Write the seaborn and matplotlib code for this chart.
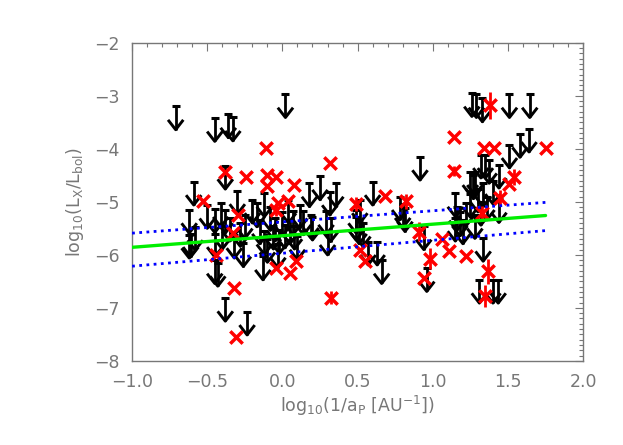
import numpy as np
import pandas as pd
import matplotlib
matplotlib.use("Agg")
import matplotlib.pyplot as plt
from matplotlib.path import Path
from matplotlib.ticker import MultipleLocator
import seaborn as sns

# detections (red crosses): log10(1/a_P), log10(Lx/Lbol), y error
det_x = [-0.53, -0.44, -0.38, -0.33, -0.32, -0.31, -0.295, -0.245, -0.11, -0.10,
         -0.10, -0.04, -0.04, -0.03, -0.045, 0.04, 0.05, 0.08, 0.09, 0.315,
         0.32, 0.49, 0.515, 0.55, 0.68, 0.82, 0.91, 0.94, 0.98, 1.06,
         1.11, 1.14, 1.14, 1.22, 1.33, 1.34, 1.41, 1.38, 1.37, 1.35,
         1.45, 1.51, 1.54, 1.75]
det_y = [-4.99, -6.00, -4.43, -5.59, -6.63, -7.54, -5.24, -4.54, -3.99, -4.50,
         -4.71, -4.53, -5.15, -5.02, -6.25, -4.99, -6.34, -4.68, -6.11, -4.27,
         -6.81, -5.04, -5.90, -6.12, -4.89, -4.99, -5.56, -6.44, -6.07, -5.70,
         -5.92, -3.78, -4.42, -6.02, -5.22, -3.99, -3.99, -3.18, -6.31, -6.77,
         -4.92, -4.66, -4.53, -3.99]
det_err = [0, 0, 0, 0, 0, 0, 0, 0, 0, 0,
           0, 0, 0.12, 0, 0, 0, 0, 0, 0, 0,
           0.12, 0.14, 0, 0, 0, 0.14, 0.17, 0, 0.2, 0,
           0, 0, 0.1, 0, 0.14, 0, 0, 0.26, 0.24, 0.21,
           0.15, 0, 0.15, 0]

# upper limits (black arrows)
lim_x = [-0.71, -0.45, -0.36, -0.33, -0.38, -0.59, -0.30, -0.62, -0.62, -0.58,
         -0.61, -0.50, -0.45, -0.41, -0.38, -0.20, -0.17, -0.45, -0.43, -0.45,
         -0.38, -0.235, -0.13, -0.26, -0.32, -0.40, -0.35, -0.28, -0.25, -0.15,
         -0.12, -0.10, -0.12, -0.08, -0.06, -0.05,
         0.02, 0.18, 0.25, 0.355, 0.315, 0.04, 0.115, 0.07, 0.14, 0.20,
         0.29, 0.32, -0.02, 0.015, 0.10, 0.19, 0.30, 0.05, 0.00, -0.03, 0.08,
         0.515, 0.60, 0.49, 0.535, 0.57, 0.63, 0.66, 0.78, 0.80, 0.815,
         0.915, 0.94, 0.96, 0.49, 0.51,
         1.26, 1.29, 1.33, 1.51, 1.645, 1.64, 1.58, 1.51, 1.35, 1.32,
         1.375, 1.44, 1.25, 1.28, 1.27, 1.15, 1.16, 1.18, 1.22, 1.335,
         1.30, 1.40, 1.36, 1.32, 1.44, 1.335, 1.31, 1.40, 1.435, 1.15,
         1.20, 1.28, 1.25]
lim_y = [-3.20, -3.42, -3.35, -3.41, -4.32, -4.62, -4.79, -5.15, -5.62, -5.47,
         -5.60, -5.06, -5.14, -5.03, -5.15, -4.96, -5.03, -6.10, -6.15, -5.60,
         -6.81, -7.07, -6.03, -5.78, -5.62, -5.45, -5.30, -5.40, -5.25, -5.35,
         -5.55, -5.70, -4.84, -5.10, -5.45, -5.30,
         -2.97, -4.65, -4.52, -4.65, -4.81, -4.96, -5.06, -5.18, -5.18, -5.28,
         -5.18, -5.31, -5.53, -5.43, -5.65, -5.24, -5.56, -5.35, -5.20, -5.80, -5.45,
         -4.96, -4.62, -5.28, -5.40, -5.75, -5.75, -6.10, -4.90, -5.05, -5.12,
         -4.15, -5.46, -6.25, -5.15, -5.35,
         -2.95, -2.97, -3.05, -2.97, -2.97, -3.62, -3.72, -3.92, -4.11, -4.11,
         -4.21, -4.30, -4.43, -4.43, -4.50, -4.84, -5.10, -5.20, -5.02, -4.65,
         -4.75, -4.60, -4.90, -5.00, -4.95, -5.68, -6.47, -6.47, -6.47, -5.30,
         -5.35, -5.25, -4.85]

# fit (green) and its bounds (blue dotted): intercept at x=0, slope
fit_range = [-1.0, 1.75]
fit_main = (-5.64, 0.218)
fit_upper = (-5.38, 0.211)
fit_lower = (-5.97, 0.244)

sns.set_style("white")
plt.rcParams['font.family'] = ['DejaVu Sans']
gray = '#777777'

fig = plt.figure(figsize=(6.23, 4.45), dpi=100)
ax = fig.add_axes([0.212, 0.189, 0.724, 0.715])

# arrows for upper limits
arrow_len = 0.44
lx = np.array(lim_x)
ly = np.array(lim_y)
ax.vlines(lx, ly - arrow_len, ly, colors='k', lw=2.0, zorder=2)
ax.scatter(lx, ly, marker='_', s=36, color='k', linewidths=2.2, zorder=2)
head = Path([(-0.7, 0.9), (0, 0), (0.7, 0.9)],
            [Path.MOVETO, Path.LINETO, Path.LINETO])
ax.scatter(lx, ly - arrow_len, marker=head, s=200, facecolors='none',
           edgecolors='k', linewidths=2.1, zorder=2)

# fit lines
fx = np.array(fit_range)
lines = pd.DataFrame({
    'x': np.concatenate([fx, fx, fx]),
    'y': np.concatenate([fit_main[0] + fit_main[1] * fx,
                         fit_upper[0] + fit_upper[1] * fx,
                         fit_lower[0] + fit_lower[1] * fx]),
    'kind': ['fit'] * 2 + ['upper'] * 2 + ['lower'] * 2,
})
sns.lineplot(data=lines[lines.kind == 'fit'], x='x', y='y', color='#00ee00',
             lw=2.4, ax=ax, zorder=4)
for k in ['upper', 'lower']:
    sns.lineplot(data=lines[lines.kind == k], x='x', y='y', color='#0000ff',
                 lw=2.0, ax=ax, zorder=4, linestyle=(0, (1, 1.6)))

# detections
dx = np.array(det_x)
dy = np.array(det_y)
de = np.array(det_err)
m = de > 0
ax.vlines(dx[m], dy[m] - de[m], dy[m] + de[m], colors='#ff0000', lw=2.0, zorder=3)
sns.scatterplot(x=dx, y=dy, marker='x', s=80, color='#ff0000', linewidth=2.5,
                ax=ax, zorder=3)

ax.set_xlim(-1.0, 2.0)
ax.set_ylim(-8, -2)
ax.xaxis.set_major_locator(MultipleLocator(0.5))
ax.xaxis.set_minor_locator(MultipleLocator(0.1))
ax.yaxis.set_major_locator(MultipleLocator(1))
ax.yaxis.set_minor_locator(MultipleLocator(0.1))
ax.xaxis.set_major_formatter(plt.FuncFormatter(lambda v, p: f"{v:.1f}".replace('-', '\u2212')))
ax.tick_params(which='both', direction='in', top=True, right=True,
               color=gray, labelcolor=gray, labelsize=12.5, width=0.8)
ax.tick_params(which='major', length=6, pad=9)
ax.tick_params(which='minor', length=3)
for s in ax.spines.values():
    s.set_color(gray)
    s.set_linewidth(1.0)

ax.set_xlabel(r'log$_{10}$(1/a$_{\rm P}$ [AU$^{-1}$])', color=gray, fontsize=12.5, labelpad=2)
ax.set_ylabel(r'log$_{10}$(L$_{\rm X}$/L$_{\rm bol}$)', color=gray, fontsize=12.5, labelpad=6)

fig.savefig('out.png', dpi=100)
